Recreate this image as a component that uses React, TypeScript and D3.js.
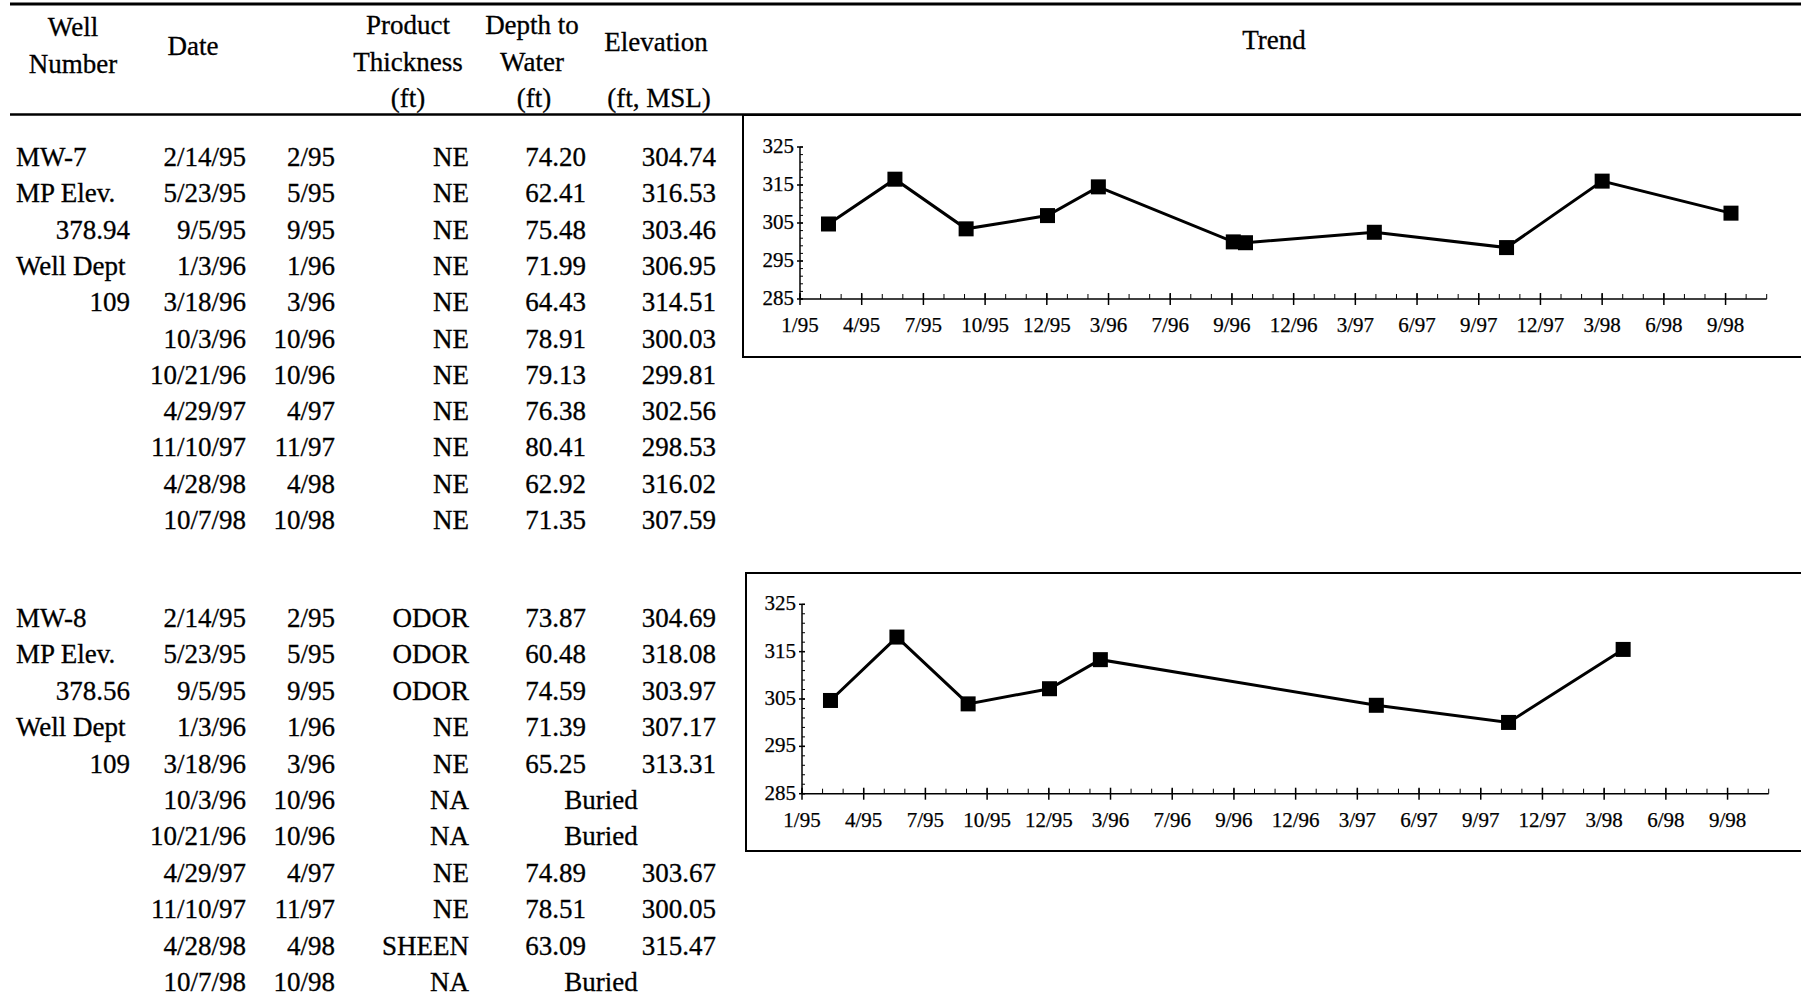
import { useEffect, useRef } from 'react';
import * as d3 from 'd3';

// table data (same sample dates for both wells)
const sampleDates = ['2/14/95', '5/23/95', '9/5/95', '1/3/96', '3/18/96', '10/3/96', '10/21/96', '4/29/97', '11/10/97', '4/28/98', '10/7/98'];
const sampleMonths = ['2/95', '5/95', '9/95', '1/96', '3/96', '10/96', '10/96', '4/97', '11/97', '4/98', '10/98'];

const mw7Info = ['MW-7', 'MP Elev.', '378.94', 'Well Dept', '109'];
const mw7Product = ['NE', 'NE', 'NE', 'NE', 'NE', 'NE', 'NE', 'NE', 'NE', 'NE', 'NE'];
const mw7Depth = [74.2, 62.41, 75.48, 71.99, 64.43, 78.91, 79.13, 76.38, 80.41, 62.92, 71.35];
const mw7Elev = [304.74, 316.53, 303.46, 306.95, 314.51, 300.03, 299.81, 302.56, 298.53, 316.02, 307.59];
// the MW-7 trend plots the 4/98 reading at the end of March
const mw7PlotDates = ['2/14/95', '5/23/95', '9/5/95', '1/3/96', '3/18/96', '10/3/96', '10/21/96', '4/29/97', '11/10/97', '3/31/98', '10/7/98'];

const mw8Info = ['MW-8', 'MP Elev.', '378.56', 'Well Dept', '109'];
const mw8Product = ['ODOR', 'ODOR', 'ODOR', 'NE', 'NE', 'NA', 'NA', 'NE', 'NE', 'SHEEN', 'NA'];
const mw8Depth = [73.87, 60.48, 74.59, 71.39, 65.25, null, null, 74.89, 78.51, 63.09, null];
const mw8Elev = [304.69, 318.08, 303.97, 307.17, 313.31, null, null, 303.67, 300.05, 315.47, null];

// trend axes
const tickLabels = ['1/95', '4/95', '7/95', '10/95', '12/95', '3/96', '7/96', '9/96', '12/96', '3/97', '6/97', '9/97', '12/97', '3/98', '6/98', '9/98'];
const yTicks = [285, 295, 305, 315, 325];

const FONT = "'Liberation Serif', 'Times New Roman', serif";
const DAY = 864e5;
const parseDate = d3.timeParse('%m/%d/%y');
const axisStart = parseDate('01/03/95');
const tickStep = 91; // days between labelled ticks

export default function App() {
  const svgRef = useRef(null);

  useEffect(() => {
    const svg = d3.select(svgRef.current);
    svg.selectAll('*').remove();
    const W = 1801;
    const H = 998;
    svg.attr('width', W).attr('height', H);

    svg.append('rect').attr('width', W).attr('height', H).attr('fill', '#fff');

    // header rules
    svg.append('line').attr('x1', 10).attr('x2', W).attr('y1', 4).attr('y2', 4)
      .attr('stroke', '#000').attr('stroke-width', 3);
    svg.append('line').attr('x1', 10).attr('x2', W).attr('y1', 114.5).attr('y2', 114.5)
      .attr('stroke', '#000').attr('stroke-width', 2.5);

    const header = [
      { t: 'Well', x: 73, y: 36 },
      { t: 'Number', x: 73, y: 73 },
      { t: 'Date', x: 193, y: 55 },
      { t: 'Product', x: 408, y: 34 },
      { t: 'Thickness', x: 408, y: 71 },
      { t: '(ft)', x: 408, y: 107 },
      { t: 'Depth to', x: 532, y: 34 },
      { t: 'Water', x: 532, y: 71 },
      { t: '(ft)', x: 534, y: 107 },
      { t: 'Elevation', x: 656, y: 51 },
      { t: '(ft, MSL)', x: 659, y: 107 },
      { t: 'Trend', x: 1274, y: 49 },
    ];
    svg.append('g')
      .selectAll('text')
      .data(header)
      .join('text')
      .attr('x', (d) => d.x)
      .attr('y', (d) => d.y)
      .attr('text-anchor', 'middle')
      .attr('font-family', FONT)
      .attr('font-size', 27)
      .attr('stroke', '#000')
      .attr('stroke-width', 0.3)
      .text((d) => d.t);

    const fmt = d3.format('.2f');

    const drawTable = (top, step, info, product, depth, elev) => {
      const g = svg.append('g')
        .attr('font-family', FONT)
        .attr('font-size', 27)
        .attr('fill', '#000')
        .attr('stroke', '#000')
        .attr('stroke-width', 0.3);
      const rowY = (i) => top + i * step;
      info.forEach((t, i) => {
        const isNum = /^[0-9.]+$/.test(t);
        g.append('text')
          .attr('x', isNum ? 130 : 16)
          .attr('y', rowY(i))
          .attr('text-anchor', isNum ? 'end' : 'start')
          .text(t);
      });
      sampleDates.forEach((d, i) => {
        const y = rowY(i);
        g.append('text').attr('x', 246).attr('y', y).attr('text-anchor', 'end').text(d);
        g.append('text').attr('x', 335).attr('y', y).attr('text-anchor', 'end').text(sampleMonths[i]);
        g.append('text').attr('x', 469).attr('y', y).attr('text-anchor', 'end').text(product[i]);
        if (depth[i] == null) {
          g.append('text').attr('x', 601).attr('y', y).attr('text-anchor', 'middle').text('Buried');
        } else {
          g.append('text').attr('x', 586).attr('y', y).attr('text-anchor', 'end').text(fmt(depth[i]));
          g.append('text').attr('x', 716).attr('y', y).attr('text-anchor', 'end').text(fmt(elev[i]));
        }
      });
    };

    drawTable(166, 36.3, mw7Info, mw7Product, mw7Depth, mw7Elev);
    drawTable(627, 36.4, mw8Info, mw8Product, mw8Depth, mw8Elev);

    const drawTrend = (box, plot, dates, elev) => {
      const g = svg.append('g');
      g.append('rect')
        .attr('x', box.x)
        .attr('y', box.y)
        .attr('width', W - box.x + 10)
        .attr('height', box.h)
        .attr('fill', 'none')
        .attr('stroke', '#000')
        .attr('stroke-width', 2);

      const axisEnd = new Date(axisStart.getTime() + (47 * tickStep / 3) * DAY);
      const x = d3.scaleTime().domain([axisStart, axisEnd]).range([plot.left, plot.right]);
      const y = d3.scaleLinear().domain([285, 325]).range([plot.bottom, plot.top]);

      // y axis
      g.append('line')
        .attr('x1', plot.left).attr('x2', plot.left)
        .attr('y1', y(325)).attr('y2', y(285))
        .attr('stroke', '#000').attr('stroke-width', 1.5);
      g.selectAll('.ymin')
        .data(d3.range(285, 325.1, 2))
        .join('line')
        .attr('x1', plot.left).attr('x2', plot.left + 3)
        .attr('y1', (d) => y(d)).attr('y2', (d) => y(d))
        .attr('stroke', '#000').attr('stroke-width', 1);
      g.selectAll('.ymaj')
        .data(yTicks)
        .join('line')
        .attr('x1', plot.left - 3).attr('x2', plot.left + 3)
        .attr('y1', (d) => y(d)).attr('y2', (d) => y(d))
        .attr('stroke', '#000').attr('stroke-width', 1.5);
      g.selectAll('.ylab')
        .data(yTicks)
        .join('text')
        .attr('x', plot.left - 6)
        .attr('y', (d) => y(d) + 6)
        .attr('text-anchor', 'end')
        .attr('font-family', FONT)
        .attr('font-size', 21)
        .attr('stroke', '#000')
        .attr('stroke-width', 0.25)
        .text((d) => d);

      // x axis
      g.append('line')
        .attr('x1', plot.left).attr('x2', plot.right)
        .attr('y1', plot.bottom).attr('y2', plot.bottom)
        .attr('stroke', '#000').attr('stroke-width', 1.5);
      const minor = d3.range(48).map((k) => new Date(axisStart.getTime() + (k * tickStep / 3) * DAY));
      g.selectAll('.xmin')
        .data(minor)
        .join('line')
        .attr('x1', (d) => x(d)).attr('x2', (d) => x(d))
        .attr('y1', plot.bottom - 5).attr('y2', plot.bottom)
        .attr('stroke', '#000').attr('stroke-width', 1);
      const major = tickLabels.map((t, k) => ({ t, d: d3.timeDay.offset(axisStart, k * tickStep) }));
      g.selectAll('.xmaj')
        .data(major)
        .join('line')
        .attr('x1', (d) => x(d.d)).attr('x2', (d) => x(d.d))
        .attr('y1', plot.bottom - 6).attr('y2', plot.bottom + 6)
        .attr('stroke', '#000').attr('stroke-width', 1.5);
      g.selectAll('.xlab')
        .data(major)
        .join('text')
        .attr('x', (d) => x(d.d))
        .attr('y', plot.bottom + 33)
        .attr('text-anchor', 'middle')
        .attr('font-family', FONT)
        .attr('font-size', 21)
        .attr('stroke', '#000')
        .attr('stroke-width', 0.25)
        .text((d) => d.t);

      // series
      const pts = dates
        .map((d, i) => ({ date: parseDate(d), v: elev[i] }))
        .filter((p) => p.v != null);
      const line = d3.line().x((d) => x(d.date)).y((d) => y(d.v));
      g.append('path')
        .datum(pts)
        .attr('fill', 'none')
        .attr('stroke', '#000')
        .attr('stroke-width', 3)
        .attr('d', line);
      const s = 15;
      g.selectAll('.pt')
        .data(pts)
        .join('rect')
        .attr('x', (d) => x(d.date) - s / 2)
        .attr('y', (d) => y(d.v) - s / 2)
        .attr('width', s)
        .attr('height', s)
        .attr('fill', '#000');
    };

    drawTrend(
      { x: 743, y: 115, h: 242 },
      { left: 800, right: 1766.7, top: 147, bottom: 299 },
      mw7PlotDates,
      mw7Elev
    );
    drawTrend(
      { x: 746, y: 573, h: 278 },
      { left: 802, right: 1768.7, top: 604.3, bottom: 793.7 },
      sampleDates,
      mw8Elev
    );
  }, []);

  return (
    <div style={{ position: 'absolute', left: 0, top: 0 }}>
      <svg ref={svgRef}></svg>
    </div>
  );
}
